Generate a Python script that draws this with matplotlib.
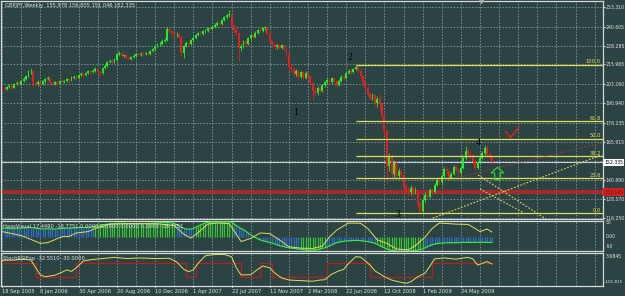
import numpy as np
import matplotlib
matplotlib.use("Agg")
import matplotlib.pyplot as plt
from matplotlib.path import Path

# ---- weekly GBPJPY candles, week 0 = 18 Sep 2005 ----
closes = [
    200.5, 199.8, 201.2, 202.0, 201.0, 203.5, 204.2, 203.0, 205.5, 206.8,
    208.5, 211.5, 212.0, 204.0, 203.0, 204.8, 203.2, 205.0, 206.5, 207.0,
    204.0, 203.0, 204.5, 203.5, 205.5, 204.5, 205.0, 206.5, 205.8, 207.5,
    208.0, 207.0, 209.0, 209.8, 209.0, 210.5, 211.5, 210.8, 212.0, 213.0,
    211.0, 210.5, 213.5, 215.0, 217.5, 218.5, 217.5, 219.0, 222.5, 223.5,
    221.5, 222.0, 220.5, 219.8, 220.8, 221.5, 222.5, 222.0, 223.0, 222.5,
    223.5, 223.0, 224.5, 226.0, 228.0, 229.0, 229.5, 231.5, 232.0, 239.0,
    237.5, 236.5, 235.5, 235.8, 234.0, 223.5, 228.0, 230.0, 229.5, 232.0,
    233.5, 235.0, 236.5, 236.0, 237.5, 238.0, 239.5, 239.0, 240.5, 241.5,
    243.0, 242.0, 245.0, 246.5, 248.0, 249.0, 241.0, 238.5, 236.5, 226.5,
    228.0, 231.0, 229.5, 233.0, 235.0, 234.0, 236.5, 238.5, 237.5, 239.5,
    240.0, 236.0, 231.0, 229.0, 227.5, 228.5, 227.0, 228.5, 226.0, 222.0,
    214.5, 213.0, 209.5, 211.5, 208.0, 211.0, 207.5, 210.5, 208.5, 204.0,
    199.0, 197.5, 200.5, 199.0, 202.5, 204.5, 206.0, 204.5, 207.0, 205.0,
    202.5, 205.5, 208.0, 207.0, 210.5, 212.0, 211.0, 213.0, 214.5, 212.0,
    208.5, 204.5, 201.0, 196.5, 194.0, 196.0, 191.0, 193.5, 190.0, 182.5,
    173.0, 150.0, 156.5, 145.0, 152.0, 143.5, 146.5, 144.0, 136.5, 134.0,
    133.0, 136.0, 133.5, 134.5, 125.5, 121.0, 128.0, 131.5, 130.0, 134.5,
    133.0, 138.0, 141.0, 139.5, 143.5, 148.0, 146.5, 142.5, 145.0, 149.5,
    147.5, 145.5, 149.0, 155.0, 160.0, 158.0, 157.0, 153.0, 149.0, 152.5,
    155.5, 158.5, 162.0, 157.5, 155.978, 152.335]
first_open = 200.8
highs = [
    201.9, 201.3, 202.0, 203.1, 202.8, 204.2, 205.3, 205.0, 206.1, 207.9,
    209.4, 212.3, 213.4, 212.6, 205.2, 205.6, 205.5, 206.0, 207.3, 208.4,
    207.7, 204.9, 205.3, 205.2, 206.2, 206.4, 206.0, 207.2, 207.3, 208.3,
    209.1, 208.9, 209.8, 210.9, 210.6, 211.3, 212.4, 212.3, 212.9, 214.2,
    213.8, 212.0, 214.1, 216.0, 218.3, 219.6, 219.3, 220.1, 223.4, 224.8,
    224.1, 223.1, 222.7, 221.4, 221.6, 222.5, 223.3, 223.4, 223.9, 223.8,
    224.4, 224.3, 225.2, 226.9, 228.8, 230.1, 230.6, 232.3, 233.4, 240.3,
    239.9, 238.4, 237.3, 236.8, 236.2, 234.6, 228.9, 231.0, 231.2, 232.8,
    234.3, 235.9, 237.3, 237.6, 238.4, 239.2, 240.3, 240.6, 241.4, 242.6,
    243.9, 243.8, 245.8, 247.5, 249.0, 251.1, 249.6, 242.4, 240.1, 237.0,
    229.6, 231.9, 232.2, 233.8, 235.9, 236.0, 237.4, 239.3, 239.4, 240.3,
    241.0, 240.6, 236.8, 232.1, 230.0, 229.6, 229.3, 229.4, 229.2, 226.8,
    222.7, 216.0, 214.2, 212.9, 212.3, 212.0, 211.9, 211.6, 211.4, 209.2,
    204.8, 201.3, 201.7, 201.6, 203.3, 205.4, 207.1, 206.8, 207.9, 207.8,
    205.7, 206.3, 208.9, 209.1, 211.3, 213.0, 212.9, 214.0, 215.9, 215.2,
    212.8, 209.3, 205.2, 201.9, 197.8, 197.6, 196.9, 195.2, 197.0, 190.8,
    183.4, 173.9, 158.2, 157.6, 154.1, 153.0, 148.6, 147.8, 145.1, 138.3,
    136.2, 137.6, 137.0, 136.4, 135.3, 127.1, 129.4, 133.0, 132.9, 135.6,
    136.0, 139.2, 142.3, 142.2, 144.6, 149.3, 149.6, 147.4, 146.3, 150.6,
    150.5, 148.8, 150.1, 156.1, 163.0, 161.4, 159.6, 158.1, 154.3, 153.6,
    156.6, 159.7, 163.5, 162.8, 158.8, 156.805]
lows = [
    199.6, 198.9, 199.2, 200.6, 200.1, 200.5, 202.8, 202.1, 202.6, 204.9,
    206.0, 207.8, 209.9, 201.0, 201.8, 202.3, 202.4, 202.6, 204.1, 205.6,
    203.2, 202.0, 202.4, 202.6, 202.9, 203.7, 203.8, 204.3, 204.9, 205.2,
    206.8, 206.2, 206.5, 208.3, 208.1, 208.4, 209.9, 209.7, 210.2, 211.4,
    209.6, 208.8, 209.9, 212.8, 214.4, 216.8, 216.4, 216.9, 218.5, 221.7,
    220.6, 220.8, 219.6, 218.7, 219.0, 220.1, 220.9, 221.2, 221.3, 221.7,
    221.9, 222.1, 222.4, 223.9, 225.3, 227.2, 228.1, 228.8, 230.7, 231.4,
    236.3, 235.2, 234.1, 233.9, 232.9, 221.0, 220.5, 227.1, 228.4, 228.9,
    231.2, 232.8, 234.2, 235.1, 235.4, 236.6, 237.2, 238.1, 238.3, 239.8,
    240.7, 241.0, 241.4, 244.3, 245.8, 247.0, 239.8, 237.2, 235.0, 218.5,
    224.8, 227.0, 228.3, 228.8, 232.1, 232.9, 233.3, 235.7, 236.4, 236.8,
    238.2, 234.9, 229.8, 227.6, 226.1, 226.3, 225.9, 226.0, 224.8, 220.6,
    212.9, 211.2, 207.6, 208.4, 206.5, 207.0, 206.2, 206.6, 207.2, 202.4,
    192.6, 195.4, 196.3, 197.6, 198.1, 201.5, 203.6, 203.2, 203.6, 203.9,
    201.4, 201.8, 204.7, 205.9, 206.3, 209.6, 209.8, 210.2, 212.3, 210.9,
    207.1, 203.0, 199.6, 195.0, 192.6, 193.1, 189.4, 188.6, 185.8, 180.6,
    170.2, 139.3, 146.7, 142.8, 143.2, 141.2, 141.9, 142.3, 134.6, 131.8,
    130.5, 131.4, 131.2, 131.9, 123.7, 118.8, 120.2, 126.6, 128.3, 129.1,
    131.5, 132.4, 136.9, 137.8, 138.6, 142.5, 144.9, 140.9, 141.3, 144.1,
    146.0, 143.9, 144.6, 148.1, 154.2, 156.5, 155.2, 151.4, 147.2, 148.0,
    151.3, 154.6, 157.4, 156.1, 154.6, 151.046]

price_ticks = [253.310, 240.605, 228.285, 215.965, 203.260, 190.940,
               178.235, 165.915, 153.400, 140.890, 128.570, 116.250]
last_price = 152.335
red_level = 133.105

# fibonacci retracement (high 2 -> low 3)
fib_start_week = 148
fib_high = 215.9
fib_low = 119.3
fib_pcts = [100.0, 61.8, 50.0, 38.2, 23.6, 0.0]

# hand drawn trend lines: (week, price) pairs
up_line = [(180.3, 116.2), (250.5, 157.0)]
down_line_a = [(199.2, 144.2), (227.6, 115.6)]
down_line_b = [(200.0, 135.1), (218.4, 119.5)]
red_trend = [(191.6, 142.9), (251.0, 165.0)]
wave_labels = [("1", 123.0, 185.1), ("2", 145.6, 220.8), ("3", 165.7, 118.4), ("4", 199.2, 165.0)]
check_mark = [(210.6, 172.5), (212.8, 168.6), (216.4, 175.4)]
arrow_pos = (207.1, 145.8)

# ---- indicator 1 (HaasVisual) ----
haas_green = [
    30, 31, 31, 30, 29, 29, 30, 31, 31, 32,
    32, 33, 33, 32, 31, 30, 29, 28, 28, 29,
    29, 28, 28, 29, 29, 30, 30, 31, 31, 31,
    32, 32, 33, 33, 33, 34, 34, 35, 36,
    38, 40, 42, 43, 44, 45, 46, 47, 47, 48, 48,
    48, 48, 47, 47, 47, 46, 46, 46, 47, 47,
    47, 48, 48, 48, 49, 49, 50, 50, 50, 51,
    50, 49, 47,
    44, 40, 34, 30, 28, 27, 28, 30,
    34, 38, 42, 46, 49, 51, 52, 53, 53, 53, 53, 53, 53, 53, 53, 52,
    46, 40, 34, 30, 26, 20, 14, 8, 3, -2,
    -6, -10, -13, -15, -17, -19, -21, -24, -27, -30,
    -32, -34, -36, -38, -39, -40, -41, -42,
    -43, -44, -45, -46, -46, -46, -45, -44, -42, -40, -38,
    -35, -31, -27, -23, -20, -18, -16, -15, -14, -13, -13, -12, -12, -12,
    -13, -14, -15, -16, -18, -20, -22,
    -26, -30, -34, -38, -42, -45, -47, -48, -49, -50,
    -50, -50, -50, -49, -49, -48, -47, -46, -44, -42,
    -38, -34, -30, -27, -25, -23, -22, -21, -21, -20,
    -20, -20, -20, -20, -20, -19, -19, -19, -19, -19,
    -19, -19, -19, -19, -19, -19, -19, -18.8, -18.78]
haas_green_spans = [(39, 72), (81, 96), (125, 135), (157, 176)]
haas_yellow_w = [0, 8, 16, 19, 25, 28, 31, 36, 39, 45, 55, 65, 72, 76, 79, 82, 86, 90, 95,
                 98, 100, 104, 108, 112, 116, 120, 125, 130, 134, 137, 140, 145, 150, 153,
                 157, 161, 165, 170, 173, 177, 180, 183, 190, 195, 198, 200, 203, 205]
haas_yellow_v = [19, 5, -22, -20, 1, 2, 14, 19, 30, 45, 47, 46, 40, 10, -4, 15, 45, 49, 47,
                 10, -16, -5, 14, 12, -10, -34, -39, -40, -32, 0, 24, 49, 48, 30,
                 -10, -22, -42, -45, -30, 0, 30, 49, 45, 44, 30, 19, 28, 17.4]

# ---- indicator 2 (StochRSIExp) ----
stoch_w = [0, 5, 9, 12, 14, 16, 18, 22, 25, 27, 29, 31, 34, 37, 42, 47, 52, 58, 64, 70,
           73, 76, 78, 80, 82, 85, 88, 93, 96, 98, 100, 104, 107, 109, 112, 114, 117, 120,
           125, 130, 133, 135, 138, 141, 143, 145, 148, 150, 152, 154, 156, 160, 163, 166,
           169, 171, 174, 177, 179, 181, 185, 190, 195, 197, 199, 201, 203, 205]
stoch_v = [-20, -19, -16, -19, -45, -69, -75, -70, -60, -52, -57, -45, -22, -18, -14, -10,
           -14, -12, -14, -13, -25, -50, -58, -52, -30, -5, -1, 0, -8, -45, -69, -68, -50,
           -39, -45, -62, -79, -86, -88, -90, -86, -85, -66, -55, -50, -30, -8, -9, -22,
           -36, -55, -75, -86, -92, -97, -92, -75, -63, -40, -15, -12, -16, -10, -15, -36,
           -30, -24, -32.55]
stoch_step_w = [0, 14, 31, 77, 81, 100, 108, 113, 136, 154, 180, 205.5]
stoch_step_v = [-30, -75, -30, -75, -30, -75, -30, -75, -30, -75, -30]

date_labels = ["18 Sep 2005", "8 Jan 2006", "30 Apr 2006", "20 Aug 2006", "10 Dec 2006",
               "1 Apr 2007", "22 Jul 2007", "11 Nov 2007", "2 Mar 2008", "22 Jun 2008",
               "12 Oct 2008", "1 Feb 2009", "24 May 2009"]

BG = "#2c4343"
GRID = "#93a3a3"
FRAME = "#d4d8d8"
TXT = "#e6e6e6"
YEL = "#dede5a"
FS = 3.7      # small chart texts
FSR = 3.3     # right price scale

W, H = 625, 296
fig = plt.figure(figsize=(W / 100, H / 100), dpi=100, facecolor=BG)


def px_axes(top, bottom):
    return fig.add_axes([1 / W, (H - bottom) / H, 602 / W, (bottom - top) / H], facecolor=BG)


ax = px_axes(1, 219)
ax1 = px_axes(221, 251)
ax2 = px_axes(253, 286)

grid_weeks = np.arange(0, 252, 8)
for a in (ax, ax1, ax2):
    a.set_xlim(-0.5, 251.5)
    a.vlines(grid_weeks, 0, 1, transform=a.get_xaxis_transform(), colors=GRID,
             lw=0.55, linestyles=(0, (2, 2)), zorder=0)
    a.set_xticks([])
    a.set_yticks([])
    for s in a.spines.values():
        s.set_color(FRAME)
        s.set_linewidth(0.9)

# ---- main price chart ----
ax.set_ylim(115.60, 257.21)
ax.hlines(price_ticks, -0.5, 251.5, colors=GRID, lw=0.55, linestyles=(0, (2, 2)), zorder=0)

weeks = np.arange(len(closes))
c = np.array(closes)
o = np.array([first_open] + closes[:-1])
bull = c >= o
cols = np.where(bull, "#22f022", "#e81e1e")
ax.vlines(weeks, lows, highs, colors=cols, lw=0.6, zorder=3)
body = np.maximum(np.abs(c - o), 0.35)
ax.bar(weeks, body, bottom=np.minimum(o, c), width=0.78, color=cols, lw=0, zorder=3)

# horizontal levels
ax.axhline(red_level, color="#b02a2a", lw=3.0, alpha=0.9, zorder=2)
ax.axhline(last_price, color="#c9cccc", lw=0.8, zorder=2)
for p in fib_pcts:
    lv = fib_low + (fib_high - fib_low) * p / 100
    ax.hlines(lv, fib_start_week, 251.5, colors=YEL, lw=0.9, zorder=4)
    ax.text(250.6, lv + 0.4, "%.1f" % p, color=YEL, fontsize=FS, ha="right", va="bottom", zorder=5)

# trend lines
for ln in (up_line, down_line_a, down_line_b):
    ax.plot([ln[0][0], ln[1][0]], [ln[0][1], ln[1][1]], color=YEL, lw=0.8,
            linestyle=(0, (1.5, 1.5)), zorder=4)
ax.plot([red_trend[0][0], red_trend[1][0]], [red_trend[0][1], red_trend[1][1]],
        color="#b03a3a", lw=0.8, linestyle=(0, (1, 1.5)), zorder=4)

for t, wx, py in wave_labels:
    ax.text(wx, py, t, color="black", fontsize=7, family="Liberation Serif",
            ha="center", va="center", zorder=6, clip_on=True)

ax.plot([p[0] for p in check_mark], [p[1] for p in check_mark], color="#e02020",
        lw=1.1, solid_capstyle="round", zorder=6)
arrow = Path([(0, 1), (-1, 0.1), (-0.45, 0.1), (-0.45, -1), (0.45, -1), (0.45, 0.1),
              (1, 0.1), (0, 1)])
ax.plot([arrow_pos[0]], [arrow_pos[1]], marker=arrow, markersize=9, markerfacecolor="none",
        markeredgecolor="#2ed02e", markeredgewidth=0.9, zorder=6)
ax.plot([200.4], [256.9], marker="v", markersize=3, color="#a8a8a8", zorder=6, clip_on=False)

ax.text(0.006, 0.99, "GBPJPY,Weekly  155.978 156.805 151.046 152.335", transform=ax.transAxes,
        color=TXT, fontsize=FS, ha="left", va="top")

# right price scale
ax.yaxis.tick_right()
ax.set_yticks(price_ticks)
ax.set_yticklabels(["%.3f" % v if v != 153.4 else "" for v in price_ticks])
ax.tick_params(axis="y", colors=FRAME, labelcolor=TXT, labelsize=FSR, length=1.2, pad=0.8)
ax.text(1.002, last_price, "152.335", transform=ax.get_yaxis_transform(), fontsize=FSR,
        color="black", va="center", ha="left",
        bbox=dict(boxstyle="square,pad=0.25", fc="white", ec="none"), zorder=7, clip_on=False)
ax.text(1.002, red_level, "133.105", transform=ax.get_yaxis_transform(), fontsize=FSR,
        color="#701010", va="center", ha="left",
        bbox=dict(boxstyle="square,pad=0.25", fc="#d02020", ec="none"), zorder=7, clip_on=False)

# ---- indicator 1 ----
ax1.set_ylim(-49, 56)
hg = np.array(haas_green)
hcol = np.array(["#2f6fc0"] * len(hg), dtype=object)
for a0, a1 in haas_green_spans:
    hcol[a0:a1 + 1] = "#38c038"
ax1.vlines(np.arange(len(hg)), 0, hg, colors=list(hcol), lw=0.9, zorder=2)
ax1.plot(np.arange(len(hg)), hg, color="#3cf03c", lw=0.8, zorder=3)
ax1.plot(haas_yellow_w, haas_yellow_v, color=YEL, lw=0.7, zorder=4)
ax1.text(0.004, 0.80, "HaasVisual 17.4490 -18.7751 0.0000 0.0000 0.0000 0.0000 -18.7751",
         transform=ax1.transAxes, color=TXT, fontsize=FS, va="center", ha="left", zorder=5)
for lab, yv in (("50", 50), ("0.00", 0), ("-50", -35)):
    ax1.text(1.005, yv, lab, transform=ax1.get_yaxis_transform(), color=TXT, fontsize=FSR,
             va="center", ha="left", clip_on=False)

# ---- indicator 2 ----
ax2.set_ylim(-106, 4.6)
ax2.step(stoch_step_w, stoch_step_v + [stoch_step_v[-1]], where="post", color="#b32222",
         lw=0.9, zorder=2)
ax2.plot(stoch_w, stoch_v, color=YEL, lw=0.7, zorder=3)
ax2.text(0.004, 0.82, "StochRSIExp -32.5510 -30.0000", transform=ax2.transAxes, color=TXT,
         fontsize=FS, va="center", ha="left", zorder=5)
ax2.text(1.004, 0.88, "3.6845", transform=ax2.transAxes, color=TXT, fontsize=FSR,
         va="center", ha="left")
ax2.text(1.003, 0.12, "-101.815", transform=ax2.transAxes, color=TXT, fontsize=3.0,
         va="center", ha="left")

for i, lab in enumerate(date_labels):
    wk = i * 16
    ax2.text(wk, -0.08, lab, transform=ax2.get_xaxis_transform(), color=TXT, fontsize=FS,
             ha="left", va="top", clip_on=False)
    ax2.plot([wk, wk], [-0.04, 0], transform=ax2.get_xaxis_transform(), color=FRAME,
             lw=0.6, clip_on=False)

fig.savefig("out.png", dpi=100, facecolor=BG)
